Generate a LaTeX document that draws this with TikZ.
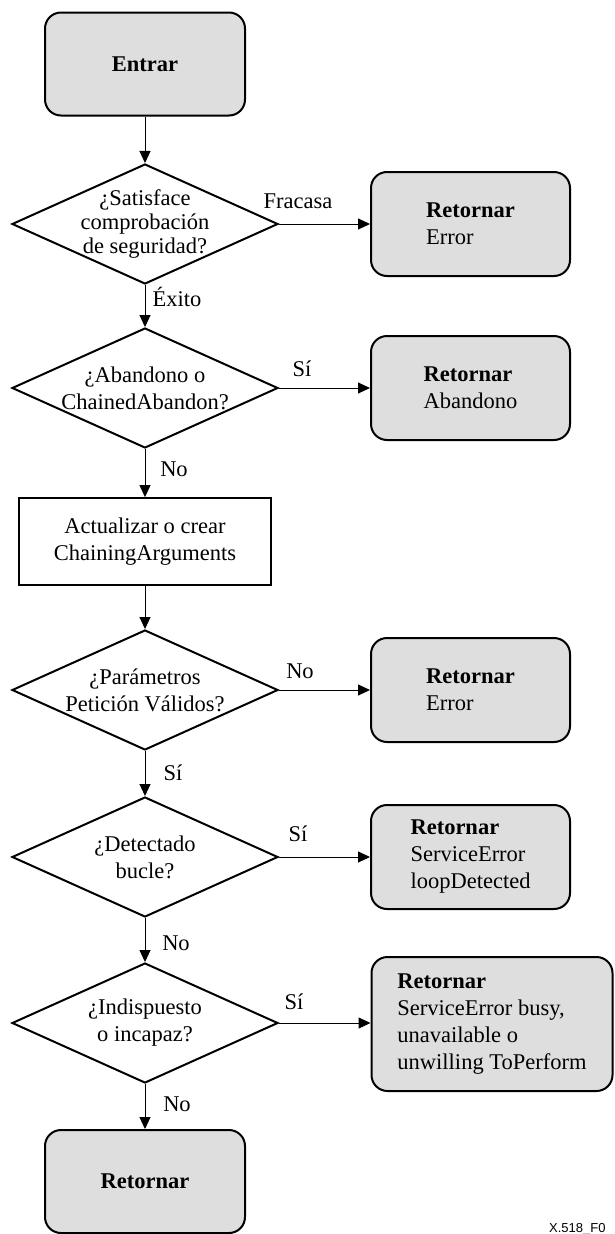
\documentclass[tikz,border=0pt]{standalone}
\usepackage{fontspec}
\usepackage{xcolor}
\usepackage{tikz}
\setmainfont{Liberation Serif}
\newfontfamily\figsans{Liberation Sans}
\definecolor{boxgray}{RGB}{222, 222, 222}
\newcommand{\chartfont}{\fontsize{22.5}{27}\selectfont}
\usetikzlibrary{shapes, arrows.meta, positioning, calc}

\begin{document}
\begin{tikzpicture}[
    x=1pt, y=-1pt,
    terminal/.style={rectangle, rounded corners=16pt, draw, line width=2pt, fill=boxgray, minimum width=200pt, minimum height=103pt, font=\chartfont\bfseries},
    retbox/.style={rectangle, rounded corners=16pt, draw, line width=2pt, fill=boxgray, minimum width=199pt, minimum height=104pt, align=left, font=\chartfont},
    decision/.style={diamond, draw, line width=2pt, minimum width=266pt, minimum height=120pt, inner sep=0pt},
    qtext/.style={align=center, inner sep=0pt, font=\chartfont},
    process/.style={rectangle, draw, line width=1.8pt, minimum width=252pt, minimum height=87pt, align=center, font=\chartfont},
    tag/.style={inner sep=1pt, font=\chartfont},
    arrow/.style={-{Triangle[length=12pt, width=11pt]}, line width=1pt}
]
    \useasboundingbox (0,0) rectangle (615,1234);

    % Main column
    \node[terminal] (entrar) at (145, 64) {Entrar};
    \node[decision, label={[qtext, font=\fontsize{22.5}{24}\selectfont]center:{¿Satisface\\comprobación\\de seguridad?}}] (d1) at (145, 224) {};
    \node[decision, label={[qtext]center:{¿Abandono o\\ChainedAbandon?}}] (d2) at (145, 388) {};
    \node[process] (update) at (145, 541.5) {Actualizar o crear\\ChainingArguments};
    \node[decision, label={[qtext]center:{¿Parámetros\\Petición Válidos?}}] (d3) at (145, 690) {};
    \node[decision, label={[qtext]center:{¿Detectado\\bucle?}}] (d4) at (145, 857) {};
    \node[decision, label={[qtext]center:{¿Indispuesto\\o incapaz?}}] (d5) at (145, 1023) {};
    \node[terminal] (fin) at (145, 1181.5) {Retornar};

    % Return boxes
    \node[retbox] (r1) at (470.5, 224) {\textbf{Retornar}\\Error};
    \node[retbox] (r2) at (470.5, 388) {\textbf{Retornar}\\Abandono};
    \node[retbox] (r3) at (470.5, 690) {\textbf{Retornar}\\Error};
    \node[retbox] (r4) at (470.5, 857) {\textbf{Retornar}\\ServiceError\\loopDetected};
    \node[retbox, minimum width=241pt, minimum height=134pt] (r5) at (492, 1024) {\textbf{Retornar}\\ServiceError busy,\\unavailable o\\unwilling ToPerform};

    % Arrows
    \draw[arrow] (entrar) -- (d1);
    \draw[arrow] (d1) -- (d2);
    \draw[arrow] (d2) -- (update);
    \draw[arrow] (update) -- (d3);
    \draw[arrow] (d3) -- (d4);
    \draw[arrow] (d4) -- (d5);
    \draw[arrow] (d5) -- (fin);
    \draw[arrow] (d1.east) -- (d1.east -| r1.west);
    \draw[arrow] (d2.east) -- (d2.east -| r2.west);
    \draw[arrow] (d3.east) -- (d3.east -| r3.west);
    \draw[arrow] (d4.east) -- (d4.east -| r4.west);
    \draw[arrow] (d5.east) -- (d5.east -| r5.west);

    % Labels
    \node[tag] (fracasa) at (298, 201) {Fracasa};
    \node[tag] (exito) at (177, 297) {Éxito};
    \node[tag] (si1) at (302, 369) {Sí};
    \node[tag] (no1) at (174, 469) {No};
    \node[tag] (no2) at (300, 671) {No};
    \node[tag] (si2) at (173, 773) {Sí};
    \node[tag] (si3) at (298, 834) {Sí};
    \node[tag] (no3) at (176, 943) {No};
    \node[tag] (si4) at (294, 1002) {Sí};
    \node[tag] (no4) at (177, 1104) {No};

    % Figure number
    \node[anchor=base west, inner sep=0pt, font=\figsans\fontsize{13}{15}\selectfont] (figno) at (549, 1232) {X.518\_F0};
\end{tikzpicture}
\end{document}
